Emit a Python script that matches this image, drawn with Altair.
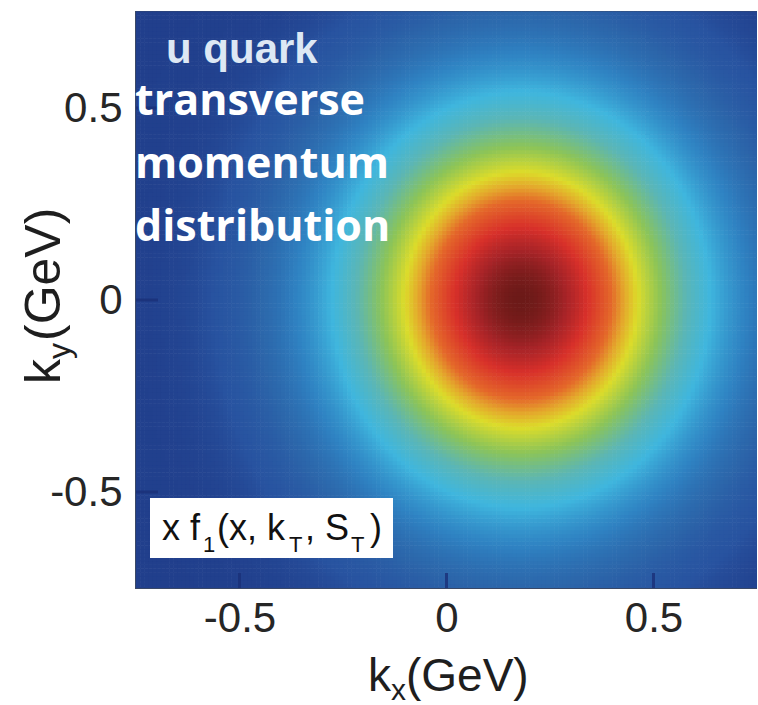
import numpy as np
import pandas as pd
import altair as alt

# Axis ranges and tick values (GeV)
kx_range = [-0.75, 0.75]
ky_range = [-0.75, 0.75]
tick_values = [-0.5, 0.0, 0.5]

# Shape of the u-quark transverse momentum density (Gaussian in kT,
# shifted along kx by the transverse spin)
center_kx, center_ky = 0.18, 0.0
width_kx, width_ky = 0.239, 0.283
grid_step = 0.01

# Colour stops for the density (jet-like palette)
color_stops = [0.0, 0.008, 0.03, 0.075, 0.16, 0.25, 0.37, 0.5, 0.58, 0.66, 0.80, 0.90, 1.0]
color_values = ["#213f8c", "#2853a0", "#2c66aa", "#2f82c2", "#3fb6de", "#5cb6b4",
                "#8cc458", "#dcdc2a", "#e4a82c", "#e4682a", "#d8302a", "#a82428", "#6c1a18"]

W, H = 621, 576

kx = np.arange(kx_range[0], kx_range[1], grid_step)
ky = np.arange(ky_range[0], ky_range[1], grid_step)
KX, KY = np.meshgrid(kx, ky)
dens = np.exp(-((KX + grid_step / 2 - center_kx) ** 2) / (2 * width_kx ** 2)
              - ((KY + grid_step / 2 - center_ky) ** 2) / (2 * width_ky ** 2))
heat = pd.DataFrame({
    "kx0": np.round(KX.ravel(), 4),
    "kx1": np.round(KX.ravel() + grid_step * 1.15, 4),
    "ky0": np.round(KY.ravel(), 4),
    "ky1": np.round(KY.ravel() + grid_step * 1.15, 4),
    "f": np.round(dens.ravel(), 4),
})

xscale = alt.Scale(domain=kx_range, nice=False, zero=False)
yscale = alt.Scale(domain=ky_range, nice=False, zero=False)

label_font = "Liberation Sans"
axis_common = dict(values=tick_values, ticks=False, domain=False, grid=False,
                   labelFontSize=42, labelFont=label_font, labelColor="#262626",
                   labelExpr="datum.value == 0 ? '0' : replace(datum.label, '\u2212', '-')",
                   title=None)

heatmap = alt.Chart(heat).mark_rect(strokeWidth=0).encode(
    x=alt.X("kx0:Q", scale=xscale, axis=alt.Axis(labelPadding=10, **axis_common)),
    x2="kx1:Q",
    y=alt.Y("ky0:Q", scale=yscale, axis=alt.Axis(labelPadding=14, **axis_common)),
    y2="ky1:Q",
    color=alt.Color("f:Q", scale=alt.Scale(domain=color_stops, range=color_values,
                                           interpolate="rgb", clamp=True), legend=None),
)

ticks_df = pd.DataFrame({"v": tick_values})
tick_color = "#1a2f78"
yticks = alt.Chart(ticks_df).mark_rule(color=tick_color, strokeWidth=3, opacity=0.8).encode(
    y=alt.Y("v:Q", scale=yscale), x=alt.value(0), x2=alt.value(22))
xticks = alt.Chart(ticks_df).mark_rule(color=tick_color, strokeWidth=3, opacity=0.8).encode(
    x=alt.X("v:Q", scale=xscale), y=alt.value(H - 15), y2=alt.value(H))

u_quark = alt.Chart().mark_text(
    text="u quark", font=label_font, fontSize=42, fontWeight="bold",
    color="#dde8f4", align="left", baseline="alphabetic",
).encode(x=alt.value(30), y=alt.value(51))

caption = alt.Chart().mark_text(
    text=["transverse", "momentum", "distribution"], font="Open Sans", fontSize=43,
    fontWeight="bold", color="white", align="left", baseline="alphabetic", lineHeight=63,
).encode(x=alt.value(-1), y=alt.value(103))

box = alt.Chart().mark_rect(color="white").encode(
    x=alt.value(14), x2=alt.value(257), y=alt.value(486), y2=alt.value(546))


def piece(text, x, y, size):
    return alt.Chart().mark_text(
        text=text, font=label_font, fontSize=size, color="#111111",
        align="left", baseline="alphabetic",
    ).encode(x=alt.value(x), y=alt.value(y))


formula = [
    piece("x f", 26, 528, 36),
    piece("1", 67, 540, 22),
    piece("(x, k", 81, 528, 36),
    piece("T", 153, 540, 22),
    piece(", S", 169, 528, 36),
    piece("T", 215, 540, 22),
    piece(")", 234, 528, 36),
]


def title_piece(text, x, y, size, angle=0):
    return alt.Chart().mark_text(
        text=text, font=label_font, fontSize=size, color="#1e1e1e",
        align="left", baseline="alphabetic", angle=angle,
    ).encode(x=alt.value(x), y=alt.value(y))


titles = [
    title_piece("k", 232, 679, 46),
    title_piece("x", 255, 688, 30),
    title_piece("(GeV)", 270, 679, 46),
    title_piece("k", -76, 372, 50, 270),
    title_piece("y", -66, 347, 32, 270),
    title_piece("(GeV)", -76, 329, 50, 270),
]

chart = alt.layer(heatmap, yticks, xticks, u_quark, caption, box, *formula, *titles).properties(
    width=W, height=H,
    autosize=alt.AutoSizeParams(type="none"),
    padding={"left": 136, "top": 12, "right": 0, "bottom": 117},
    background="white",
).configure_view(stroke="#3a4866", strokeWidth=2)

chart.save("out.html", embed_options={"renderer": "svg", "actions": False})
